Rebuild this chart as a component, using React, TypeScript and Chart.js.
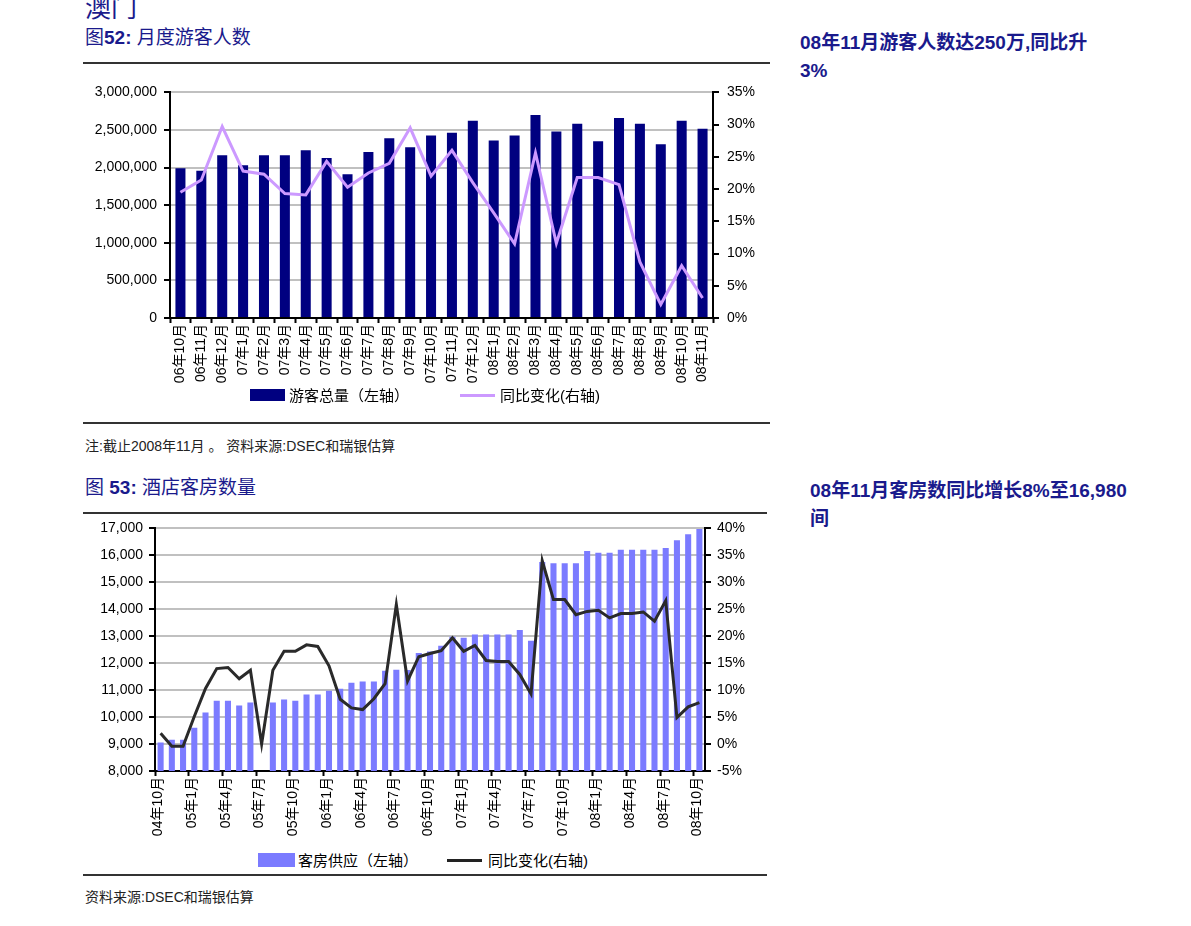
import React, { useEffect, useRef } from 'react';
import { Chart, registerables } from 'chart.js';
Chart.register(...registerables);

// ---------- Chart 52: monthly visitors ----------
const visitorMonths = [
  '06年10月', '06年11月', '06年12月',
  '07年1月', '07年2月', '07年3月', '07年4月', '07年5月', '07年6月',
  '07年7月', '07年8月', '07年9月', '07年10月', '07年11月', '07年12月',
  '08年1月', '08年2月', '08年3月', '08年4月', '08年5月', '08年6月',
  '08年7月', '08年8月', '08年9月', '08年10月', '08年11月',
];
const visitorTotals = [
  1990000, 1957000, 2164000, 2032000, 2164000, 2164000, 2230000, 2129000, 1913000,
  2208000, 2389000, 2270000, 2428000, 2463000, 2622000, 2362000, 2428000, 2701000,
  2481000, 2582000, 2349000, 2661000, 2582000, 2309000, 2622000, 2516000,
];
const visitorYoY = [
  19.5, 21.4, 29.7, 22.8, 22.3, 19.3, 19.1, 24.3, 20.3, 22.5, 24.0, 29.5, 22.0,
  26.0, 21.0, 16.3, 11.5, 25.6, 11.6, 21.8, 21.8, 20.7, 8.7, 2.1, 8.1, 3.1,
];
const visitorLeftRange = [0, 3000000, 500000];
const visitorRightRange = [0, 35, 5];

// ---------- Chart 53: hotel rooms ----------
const roomMonths = [
  '04年10月', '04年11月', '04年12月',
  '05年1月', '05年2月', '05年3月', '05年4月', '05年5月', '05年6月',
  '05年7月', '05年8月', '05年9月', '05年10月', '05年11月', '05年12月',
  '06年1月', '06年2月', '06年3月', '06年4月', '06年5月', '06年6月',
  '06年7月', '06年8月', '06年9月', '06年10月', '06年11月', '06年12月',
  '07年1月', '07年2月', '07年3月', '07年4月', '07年5月', '07年6月',
  '07年7月', '07年8月', '07年9月', '07年10月', '07年11月', '07年12月',
  '08年1月', '08年2月', '08年3月', '08年4月', '08年5月', '08年6月',
  '08年7月', '08年8月', '08年9月', '08年10月',
];
const roomSupply = [
  9060, 9160, 9160, 9600, 10170, 10610, 10610, 10430, 10540, null,
  10540, 10650, 10610, 10840, 10840, 10980, 11050, 11270, 11320, 11320,
  11720, 11760, 11750, 12380, 12430, 12650, 12980, 12940, 13060, 13060,
  13060, 13060, 13230, 12830, 15750, 15710, 15710, 15710, 16160, 16100,
  16100, 16210, 16210, 16210, 16210, 16270, 16560, 16780, 16980,
];
const roomYoY = [
  2.0, -0.4, -0.4, 5.1, 10.3, 14.0, 14.2, 12.1, 13.7, 0.0,
  13.7, 17.2, 17.2, 18.4, 18.1, 14.5, 8.3, 6.7, 6.4, 8.4,
  11.2, 25.9, 11.7, 16.2, 16.8, 17.3, 19.7, 17.2, 18.3, 15.5,
  15.3, 15.3, 12.9, 9.3, 34.0, 26.8, 26.8, 24.0, 24.6, 24.8,
  23.4, 24.2, 24.2, 24.5, 22.8, 26.6, 4.9, 6.9, 7.7,
];
const roomLeftRange = [8000, 17000, 1000];
const roomRightRange = [-5, 40, 5];
const roomLabelEvery = 3;

const NAVY = '#1a1a8c';
const GRID = '#c0c0c0';
const TICK_FAMILY = "'Liberation Sans', Arial, 'Noto Sans CJK SC', sans-serif";
const TEXT_FAMILY = "'Liberation Sans', Arial, 'Noto Sans CJK SC', sans-serif";
const TICK_SIZE = 14;

const fmt = (v: number) => Number(v).toLocaleString('en-US');

function yAxis(pos: 'left' | 'right', range: number[], width: number, pad: number, cb: (v: number) => string, onArea: boolean) {
  return {
    position: pos,
    min: range[0],
    max: range[1],
    ticks: { stepSize: range[2], callback: cb, padding: pad, color: '#000', font: { family: TICK_FAMILY, size: TICK_SIZE } },
    grid: { drawOnChartArea: onArea, color: GRID, lineWidth: 2, tickColor: '#000', tickWidth: 2, tickLength: 6 },
    border: { color: '#000', width: 2 },
    afterFit: (s: any) => { s.width = width; },
  };
}

function Chart52() {
  const ref = useRef<HTMLCanvasElement>(null);
  useEffect(() => {
    const chart = new Chart(ref.current!, {
      type: 'bar',
      data: {
        labels: visitorMonths,
        datasets: [
          { type: 'line', label: '同比变化(右轴)', data: visitorYoY, yAxisID: 'y1', borderColor: '#cc99ff', borderWidth: 3, pointRadius: 0, tension: 0, order: 0 } as any,
          { type: 'bar', label: '游客总量（左轴）', data: visitorTotals, yAxisID: 'y', backgroundColor: '#000080', categoryPercentage: 1, barPercentage: 0.48, order: 1 },
        ],
      },
      options: {
        animation: false,
        responsive: false,
        layout: { padding: { top: 11, left: 0, right: 0, bottom: 0 } },
        plugins: { legend: { display: false }, tooltip: { enabled: false } },
        scales: {
          x: {
            grid: { drawOnChartArea: false, offset: true, tickLength: 5, tickColor: '#000', tickWidth: 2 },
            border: { color: '#000', width: 2 },
            ticks: { autoSkip: false, maxRotation: 90, minRotation: 90, padding: 1, color: '#000', font: { family: TICK_FAMILY, size: TICK_SIZE } },
            afterFit: (s: any) => { s.height = 72; },
          },
          y: yAxis('left', visitorLeftRange, 90, 7, fmt, true),
          y1: yAxis('right', visitorRightRange, 67, 8, (v) => v + '%', false),
        } as any,
      },
    });
    return () => chart.destroy();
  }, []);
  return <canvas ref={ref} width={700} height={314} style={{ position: 'absolute', left: 80, top: 76 }} />;
}

function Chart53() {
  const ref = useRef<HTMLCanvasElement>(null);
  useEffect(() => {
    const chart = new Chart(ref.current!, {
      type: 'bar',
      data: {
        labels: roomMonths,
        datasets: [
          { type: 'line', label: '同比变化(右轴)', data: roomYoY, yAxisID: 'y1', borderColor: '#2a2a2a', borderWidth: 3, pointRadius: 0, tension: 0, order: 0 } as any,
          { type: 'bar', label: '客房供应（左轴）', data: roomSupply, yAxisID: 'y', backgroundColor: '#7b7bff', categoryPercentage: 1, barPercentage: 0.54, order: 1 },
        ],
      },
      options: {
        animation: false,
        responsive: false,
        layout: { padding: { top: 12, left: 0, right: 0, bottom: 0 } },
        plugins: { legend: { display: false }, tooltip: { enabled: false } },
        scales: {
          x: {
            grid: {
              drawOnChartArea: false, offset: true, tickLength: 5, tickWidth: 2,
              tickColor: (c: any) => (c.index !== undefined && c.index % roomLabelEvery === 0 ? '#000' : 'rgba(0,0,0,0)'),
            },
            border: { color: '#000', width: 2 },
            ticks: {
              autoSkip: false, maxRotation: 90, minRotation: 90, padding: 1, labelOffset: -2, color: '#000',
              font: { family: TICK_FAMILY, size: TICK_SIZE },
              callback: (_v: any, i: number) => (i % roomLabelEvery === 0 ? roomMonths[i] : ''),
            },
            afterFit: (s: any) => { s.height = 74; },
          },
          y: yAxis('left', roomLeftRange, 75, 6, fmt, true),
          y1: yAxis('right', roomRightRange, 75, 6, (v) => v + '%', false),
        } as any,
      },
    });
    return () => chart.destroy();
  }, []);
  return <canvas ref={ref} width={700} height={331} style={{ position: 'absolute', left: 80, top: 514 }} />;
}

function T(props: { x: number; y: number; size: number; color?: string; bold?: boolean; children: React.ReactNode; family?: string }) {
  return (
    <div
      style={{
        position: 'absolute', left: props.x, top: props.y - props.size / 2, lineHeight: props.size + 'px',
        fontSize: props.size, color: props.color || '#000', fontWeight: props.bold ? 700 : 400,
        fontFamily: props.family || TEXT_FAMILY, whiteSpace: 'nowrap',
      }}
    >
      {props.children}
    </div>
  );
}

function HLine(props: { x1: number; x2: number; y: number }) {
  return <div style={{ position: 'absolute', left: props.x1, top: props.y - 1, width: props.x2 - props.x1, height: 2, background: '#333' }} />;
}

export default function App() {
  return (
    <div style={{ position: 'absolute', left: 0, top: 0, width: 1191, height: 926, background: '#fff', overflow: 'hidden' }}>
      <T x={85} y={8} size={26} color={NAVY}>澳门</T>
      <T x={85} y={37} size={19} color={NAVY}>图<b>52:</b> 月度游客人数</T>
      <HLine x1={83} x2={770} y={63} />
      <T x={800} y={42} size={19} color={NAVY} bold>08年11月游客人数达250万,同比升</T>
      <T x={800} y={70} size={19} color={NAVY} bold>3%</T>

      <Chart52 />

      <div style={{ position: 'absolute', left: 250, top: 389, width: 35, height: 12, background: '#000080' }} />
      <T x={289} y={395} size={15}>游客总量（左轴）</T>
      <div style={{ position: 'absolute', left: 460, top: 393.5, width: 35, height: 3, background: '#cc99ff' }} />
      <T x={500} y={395} size={15}>同比变化(右轴)</T>

      <HLine x1={83} x2={770} y={423} />
      <T x={85} y={446} size={14} color="#222">注:截止2008年11月 。 资料来源:DSEC和瑞银估算</T>

      <T x={85} y={487} size={19} color={NAVY}>图 <b>53:</b> 酒店客房数量</T>
      <T x={810} y={490} size={19} color={NAVY} bold>08年11月客房数同比增长8%至16,980</T>
      <T x={810} y={518} size={19} color={NAVY} bold>间</T>
      <HLine x1={83} x2={767} y={513} />

      <Chart53 />

      <div style={{ position: 'absolute', left: 258, top: 853, width: 37, height: 14, background: '#7b7bff' }} />
      <T x={298} y={860} size={15}>客房供应（左轴）</T>
      <div style={{ position: 'absolute', left: 447, top: 858.5, width: 35, height: 3, background: '#222' }} />
      <T x={488} y={860} size={15}>同比变化(右轴)</T>

      <HLine x1={83} x2={767} y={875} />
      <T x={85} y={897} size={14} color="#222">资料来源:DSEC和瑞银估算</T>
    </div>
  );
}
